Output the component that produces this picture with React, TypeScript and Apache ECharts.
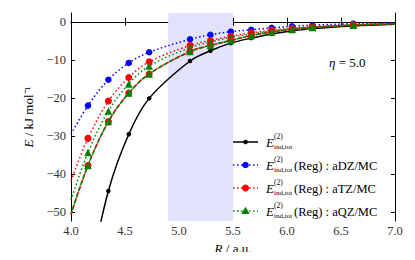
import React, { useEffect, useRef } from "react";
import * as echarts from "echarts";

// R values (a.u.) – first/last are curve end points without markers
const R = [4.0, 4.157, 4.346, 4.535, 4.724, 5.102, 5.291, 5.48, 5.669, 5.858, 6.047, 6.236, 6.614, 7.0];
const totValues = [null, -69, -44.4, -29.5, -20.1, -10.3, -7.6, -5.6, -4.3, -3.2, -2.4, -1.8, -1.1, -0.65];
const aDZValues = [-29.5, -22.0, -15.2, -10.8, -8.0, -4.6, -3.4, -2.6, -2.1, -1.6, -1.2, -0.9, -0.5, -0.3];
const aTZValues = [-41.7, -30.6, -20.8, -14.6, -10.5, -6.2, -4.9, -3.8, -2.9, -2.2, -1.7, -1.3, -0.8, -0.5];
const aQZValues = [-46.8, -34.3, -23.4, -16.3, -11.6, -6.8, -5.3, -4.1, -3.2, -2.4, -1.8, -1.4, -0.85, -0.5];
const dashedValues = [-50.5, -37.7, -26.2, -18.7, -13.7, -7.8, -6.2, -4.9, -3.6, -2.7, -2.0, -1.5, -0.9, -0.55];
const yTicks = [0, -10, -20, -30, -40, -50];
const bandRange = [4.9, 5.5];
const legendLabels = ["", "(Reg) : aDZ/MC", "(Reg) : aTZ/MC", "(Reg) : aQZ/MC"];
const etaLabel = "= 5.0";

const SERIF = "Liberation Serif";

function buildData(values: (number | null)[]) {
  const out: any[] = [];
  values.forEach((v, i) => {
    if (v === null) return;
    const endPoint = i === 0 || i === R.length - 1;
    out.push(endPoint ? { value: [R[i], v], symbol: "none" } : { value: [R[i], v] });
  });
  return out;
}

export default function App() {
  const ref = useRef<HTMLDivElement>(null);
  useEffect(() => {
    const chart = echarts.init(ref.current!, null, { renderer: "svg" });
    const minY = -52.3;
    const maxY = 2.3;
    const lineSeries = (
      name: string,
      values: (number | null)[],
      color: string,
      dash: any,
      symbol: string,
      size: number,
      z: number,
      dashOffset = 0,
      width = 1.5
    ) => ({
      name,
      type: "line",
      data: buildData(values),
      smooth: 0.35,
      symbol,
      symbolSize: size,
      showAllSymbol: true,
      clip: true,
      z,
      itemStyle: { color, borderWidth: 0 },
      lineStyle: { color, width, type: dash, dashOffset },
      emphasis: { disabled: true },
    });

    const rowsY = [142, 165, 188, 211];
    const legendDefs = [
      { color: "#000", dash: null, sym: "circle", r: 2.3 },
      { color: "#0000ff", dash: [1.5, 2.5], sym: "circle", r: 3.3 },
      { color: "#ff0000", dash: [1.5, 2.5], sym: "circle", r: 3.5 },
      { color: "#008000", dash: [1.5, 2.5], sym: "triangle", r: 3.8 },
    ];
    const txt = (x: number, y: number, text: string, size: number, italic = false) => ({
      type: "text", x, y, silent: true,
      style: {
        text, fontFamily: SERIF, fontSize: size, fontStyle: italic ? "italic" : "normal",
        fill: "#000", verticalAlign: "middle", align: "left",
      },
    });
    const legendGraphics: any[] = [];
    legendDefs.forEach((d, i) => {
      const y = rowsY[i];
      legendGraphics.push({
        type: "line",
        shape: { x1: 233, y1: y, x2: 258, y2: y },
        style: { stroke: d.color, lineWidth: 1.5, lineDash: d.dash || undefined },
        silent: true,
      });
      if (d.sym === "circle") {
        legendGraphics.push({ type: "circle", shape: { cx: 245.5, cy: y, r: d.r }, style: { fill: d.color }, silent: true });
      } else {
        legendGraphics.push({
          type: "polygon",
          shape: { points: [[245.5, y - 4.2], [241.3, y + 3], [249.7, y + 3]] },
          style: { fill: d.color },
          silent: true,
        });
      }
      legendGraphics.push(txt(266, y + 0.5, "E", 13, true));
      legendGraphics.push(txt(274, y - 5.5, "(2)", 7.5));
      legendGraphics.push(txt(274, y + 4.5, "ind,tot", 7));
      if (legendLabels[i]) legendGraphics.push(txt(294, y + 0.5, legendLabels[i], 12.5));
    });

    const fmtY = (v: number) => (v < 0 ? "\u2212" + Math.abs(v) : String(v));
    const nameStyle = {
      fontFamily: SERIF, fontSize: 13, color: "#000",
      rich: { i: { fontStyle: "italic", fontFamily: SERIF, fontSize: 13, color: "#000" } },
    };

    chart.setOption({
      animation: false,
      textStyle: { fontFamily: SERIF },
      grid: { left: 71, right: 20, top: 13, bottom: 32, containLabel: false },
      xAxis: [
        {
          type: "value", min: 4, max: 7, interval: 0.5, position: "bottom",
          name: "{i|R} / a.u.", nameLocation: "middle", nameGap: 16,
          nameTextStyle: nameStyle,
          axisLine: { show: true, lineStyle: { color: "#000", width: 1 } },
          axisTick: { show: true, inside: true, length: 4, lineStyle: { color: "#000" } },
          axisLabel: { formatter: (v: number) => v.toFixed(1), fontFamily: SERIF, fontSize: 12.5, color: "#333", margin: 3 },
          splitLine: { show: false },
        },
        {
          type: "value", min: 4, max: 7, interval: 0.5, position: "top",
          axisLine: { show: true, lineStyle: { color: "#000", width: 1 } },
          axisTick: { show: true, inside: true, length: 4, lineStyle: { color: "#000" } },
          axisLabel: { show: false },
          splitLine: { show: false },
        },
      ],
      yAxis: [
        {
          type: "value", min: minY, max: maxY, position: "left",
          name: "{i|E} / kJ mol\u207B\u00B9", nameLocation: "middle", nameGap: 36, nameRotate: 90,
          nameTextStyle: nameStyle,
          axisLine: { show: true, onZero: false, lineStyle: { color: "#000", width: 1 } },
          axisTick: { show: true, inside: true, length: 4, customValues: yTicks, lineStyle: { color: "#000" } },
          axisLabel: { customValues: yTicks, formatter: fmtY, fontFamily: SERIF, fontSize: 12.5, color: "#333", margin: 5 },
          splitLine: { show: false },
        },
        {
          type: "value", min: minY, max: maxY, position: "right",
          axisLine: { show: true, onZero: false, lineStyle: { color: "#000", width: 1 } },
          axisTick: { show: true, inside: true, length: 4, customValues: yTicks, lineStyle: { color: "#000" } },
          axisLabel: { show: false },
          splitLine: { show: false },
        },
      ],
      series: [
        {
          type: "line", data: [], z: 0, silent: true,
          markArea: {
            silent: true,
            itemStyle: { color: "#e2e2fa" },
            data: [[{ xAxis: bandRange[0] }, { xAxis: bandRange[1] }]],
          },
        },
        lineSeries("tot", totValues, "#000000", "solid", "circle", 4.5, 2),
        lineSeries("aDZ", aDZValues, "#0000ff", [1.5, 2.5], "circle", 6.5, 3),
        lineSeries("aTZ", aTZValues, "#ff0000", [1.5, 2.5], "circle", 7, 4),
        lineSeries("aQZ", aQZValues, "#008000", [1.5, 2.5], "triangle", 7.5, 5),
        lineSeries("aTZdash", dashedValues, "#ff0000", [4, 2.5], "circle", 7, 6, 0, 1.6),
        lineSeries("aQZdash", dashedValues, "#008000", [4, 2.5], "triangle", 7.5, 7, 1.5, 1.6),
      ],
      graphic: [
        ...legendGraphics,
        {
          type: "text", x: 329, y: 62, silent: true,
          style: {
            text: "{i|\u03B7} " + etaLabel,
            fontFamily: SERIF, fontSize: 13, fill: "#000", verticalAlign: "middle",
            rich: { i: { fontStyle: "italic", fontFamily: SERIF, fontSize: 13, color: "#000" } },
          },
        },
      ],
    });
    return () => chart.dispose();
  }, []);
  return <div ref={ref} style={{ width: 415, height: 260, margin: -8 }} />;
}
